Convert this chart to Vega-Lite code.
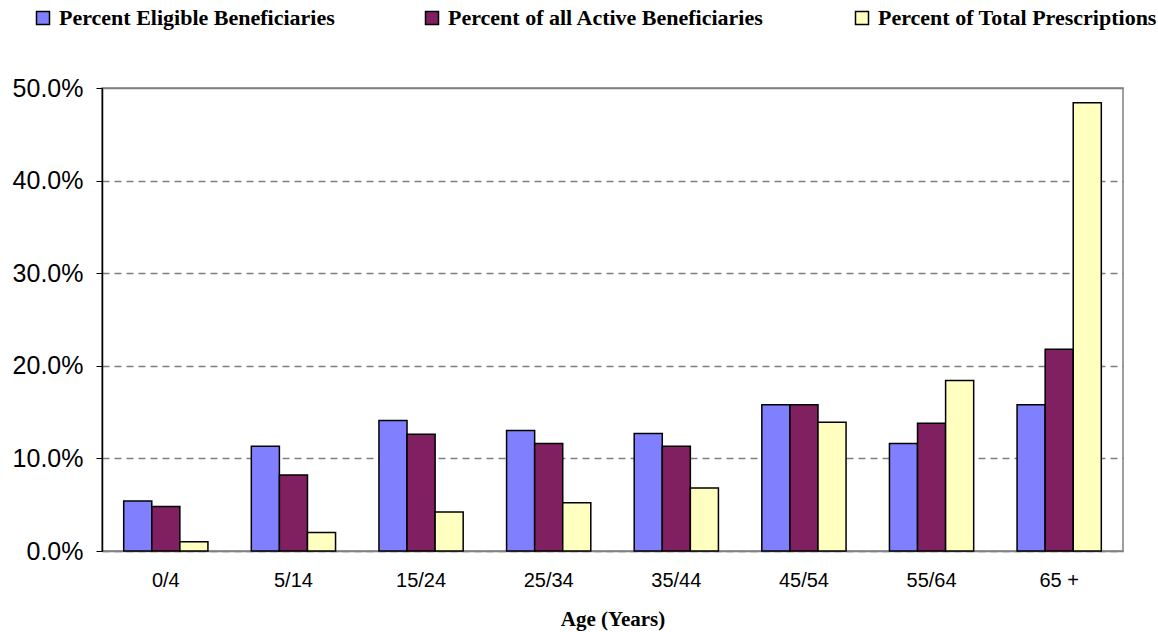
{
  "$schema": "https://vega.github.io/schema/vega-lite/v6.json",
  "width": 1021,
  "height": 463,
  "autosize": {"type": "none"},
  "padding": {"left": 102, "top": 88, "right": 35, "bottom": 81},
  "background": "white",
  "config": {
    "view": {"stroke": "#808080", "strokeWidth": 1.5},
    "axis": {"labelFont": "Liberation Sans", "labelColor": "black"}
  },
  "data": {
    "values": [
      {"age": "0/4", "series": "Percent Eligible Beneficiaries", "value": 0.054},
      {"age": "0/4", "series": "Percent of all Active Beneficiaries", "value": 0.048},
      {"age": "0/4", "series": "Percent of Total Prescriptions", "value": 0.010},
      {"age": "5/14", "series": "Percent Eligible Beneficiaries", "value": 0.113},
      {"age": "5/14", "series": "Percent of all Active Beneficiaries", "value": 0.082},
      {"age": "5/14", "series": "Percent of Total Prescriptions", "value": 0.020},
      {"age": "15/24", "series": "Percent Eligible Beneficiaries", "value": 0.141},
      {"age": "15/24", "series": "Percent of all Active Beneficiaries", "value": 0.126},
      {"age": "15/24", "series": "Percent of Total Prescriptions", "value": 0.042},
      {"age": "25/34", "series": "Percent Eligible Beneficiaries", "value": 0.130},
      {"age": "25/34", "series": "Percent of all Active Beneficiaries", "value": 0.116},
      {"age": "25/34", "series": "Percent of Total Prescriptions", "value": 0.052},
      {"age": "35/44", "series": "Percent Eligible Beneficiaries", "value": 0.127},
      {"age": "35/44", "series": "Percent of all Active Beneficiaries", "value": 0.113},
      {"age": "35/44", "series": "Percent of Total Prescriptions", "value": 0.068},
      {"age": "45/54", "series": "Percent Eligible Beneficiaries", "value": 0.158},
      {"age": "45/54", "series": "Percent of all Active Beneficiaries", "value": 0.158},
      {"age": "45/54", "series": "Percent of Total Prescriptions", "value": 0.139},
      {"age": "55/64", "series": "Percent Eligible Beneficiaries", "value": 0.116},
      {"age": "55/64", "series": "Percent of all Active Beneficiaries", "value": 0.138},
      {"age": "55/64", "series": "Percent of Total Prescriptions", "value": 0.184},
      {"age": "65 +", "series": "Percent Eligible Beneficiaries", "value": 0.158},
      {"age": "65 +", "series": "Percent of all Active Beneficiaries", "value": 0.218},
      {"age": "65 +", "series": "Percent of Total Prescriptions", "value": 0.484}
    ]
  },
  "mark": {"type": "bar", "stroke": "black", "strokeWidth": 1.5},
  "encoding": {
    "x": {
      "field": "age",
      "type": "nominal",
      "sort": ["0/4", "5/14", "15/24", "25/34", "35/44", "45/54", "55/64", "65 +"],
      "scale": {"paddingInner": 0.34, "paddingOuter": 0.17},
      "axis": {
        "title": "Age (Years)",
        "titleFont": "Liberation Serif",
        "titleFontWeight": "bold",
        "titleFontSize": 21,
        "titleColor": "black",
        "titlePadding": 18,
        "labelAngle": 0,
        "labelFontSize": 20,
        "labelPadding": 19,
        "ticks": false,
        "domainColor": "#808080",
        "domainWidth": 1.5
      }
    },
    "xOffset": {
      "field": "series",
      "type": "nominal",
      "sort": ["Percent Eligible Beneficiaries", "Percent of all Active Beneficiaries", "Percent of Total Prescriptions"],
      "scale": {"paddingInner": 0, "paddingOuter": 0}
    },
    "y": {
      "field": "value",
      "type": "quantitative",
      "scale": {"domain": [0, 0.5], "nice": false},
      "axis": {
        "title": null,
        "format": ".1%",
        "values": [0, 0.1, 0.2, 0.3, 0.4, 0.5],
        "labelFontSize": 25,
        "labelPadding": 13,
        "tickSize": 6,
        "tickColor": "black",
        "domainColor": "black",
        "domainWidth": 1.5,
        "grid": true,
        "gridColor": "#808080",
        "gridWidth": 1.5,
        "gridDash": {"condition": {"test": "datum.value >= 0.5", "value": []}, "value": [7, 5]}
      }
    },
    "color": {
      "field": "series",
      "type": "nominal",
      "sort": ["Percent Eligible Beneficiaries", "Percent of all Active Beneficiaries", "Percent of Total Prescriptions"],
      "scale": {"range": ["#8080FF", "#802060", "#FFFFC0"]},
      "legend": {
        "title": null,
        "orient": "none",
        "legendX": -70,
        "legendY": -81,
        "direction": "horizontal",
        "symbolType": "square",
        "symbolSize": 169,
        "symbolStrokeColor": "black",
        "symbolStrokeWidth": 1.5,
        "labelFont": "Liberation Serif",
        "labelFontWeight": "bold",
        "labelFontSize": 22,
        "labelColor": "black",
        "labelOffset": 5,
        "columnPadding": 86,
        "labelLimit": 400
      }
    }
  }
}
